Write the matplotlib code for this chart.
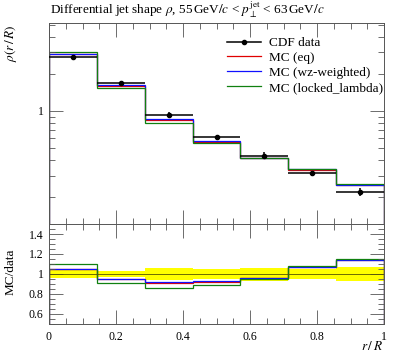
import numpy as np
import matplotlib
matplotlib.use("Agg")
import matplotlib.pyplot as plt
from matplotlib.lines import Line2D
from matplotlib.ticker import FixedLocator, NullFormatter, MultipleLocator, FuncFormatter

plt.rcParams['font.family'] = ['Liberation Serif', 'DejaVu Serif']
plt.rcParams['mathtext.fontset'] = 'stix'

# ---- data ----
edges = [0.0, 1/7, 2/7, 3/7, 4/7, 5/7, 6/7, 1.0]
cdf_data = [2.75, 1.69, 0.933, 0.616, 0.435, 0.313, 0.221]
cdf_relerr = [0.038, 0.027, 0.057, 0.047, 0.065, 0.053, 0.067]
mc_eq = [2.874, 1.606, 0.845, 0.5655, 0.4167, 0.3355, 0.2515]
mc_wz = [2.879, 1.611, 0.855, 0.570, 0.419, 0.336, 0.252]
mc_ll = [3.025, 1.543, 0.801, 0.546, 0.415, 0.339, 0.255]
labels = ["CDF data", "MC (eq)", "MC (wz-weighted)", "MC (locked_lambda)"]
colors = ["black", "#e00000", "#1010ff", "#108010"]

edges = np.array(edges)
data = np.array(cdf_data)
err = data * np.array(cdf_relerr)
centers = 0.5 * (edges[:-1] + edges[1:])
halfw = 0.5 * np.diff(edges)

W, H = 397, 358
fig = plt.figure(figsize=(W / 100, H / 100), dpi=100)
L, R = 49, 384
ax = fig.add_axes([L / W, 1 - 224 / H, (R - L) / W, (224 - 23.3) / H])
axr = fig.add_axes([L / W, 1 - 324 / H, (R - L) / W, (324 - 224) / H])

lw = 0.9
handles = []
for vals, c in zip([mc_eq, mc_wz, mc_ll], colors[1:]):
    ax.stairs(vals, edges, color=c, lw=lw)
    handles.append(Line2D([], [], color=c, lw=lw))
ax.errorbar(centers, data, xerr=halfw, yerr=err, fmt='o', color='black',
            ms=3, lw=1.1, capsize=0, zorder=5)
handles.insert(0, Line2D([], [], color='black', lw=1.1, marker='o', ms=3))

ax.set_yscale('log')
ax.set_xlim(0, 1)
ax.set_ylim(0.1216, 5.13)
ax.yaxis.set_major_locator(FixedLocator([1]))
ax.yaxis.set_minor_locator(FixedLocator([0.2, 0.3, 0.4, 0.5, 0.6, 0.7, 0.8, 0.9, 2, 3, 4, 5]))
ax.yaxis.set_major_formatter(FuncFormatter(lambda v, p: "1"))
ax.yaxis.set_minor_formatter(NullFormatter())
ax.xaxis.set_major_locator(MultipleLocator(0.2))
ax.xaxis.set_minor_locator(MultipleLocator(0.05))
ax.tick_params(labelbottom=False)

# ratio panel
axr.stairs(1 + np.array(cdf_relerr), edges, baseline=1 - np.array(cdf_relerr),
           fill=True, color='#ffff00', lw=0)
axr.hlines(1, 0, 1, color='#555500', lw=0.6)
for vals, c in zip([mc_eq, mc_wz, mc_ll], colors[1:]):
    axr.stairs(np.array(vals) / data, edges, color=c, lw=lw)
axr.set_xlim(0, 1)
axr.set_ylim(0.5, 1.5)
axr.yaxis.set_major_locator(FixedLocator([0.6, 0.8, 1.0, 1.2, 1.4]))
axr.yaxis.set_minor_locator(MultipleLocator(0.05))
axr.yaxis.set_major_formatter(FuncFormatter(lambda v, p: "1" if abs(v - 1) < 1e-9 else f"{v:.1f}"))
axr.xaxis.set_major_locator(MultipleLocator(0.2))
axr.xaxis.set_minor_locator(MultipleLocator(0.05))
axr.xaxis.set_major_formatter(FuncFormatter(lambda v, p: "0" if v == 0 else ("1" if abs(v - 1) < 1e-9 else f"{v:.1f}")))

for a in (ax, axr):
    a.tick_params(which='both', direction='in', top=True, right=True, color='#555555', width=0.6,
                  labelsize=8.5)
    a.tick_params(which='major', length=10)
    a.tick_params(which='minor', length=4.5)
    for s in a.spines.values():
        s.set_color('#555555')
        s.set_linewidth(0.7)
ax.tick_params(axis='y', pad=4)
axr.tick_params(axis='y', pad=4)
axr.tick_params(axis='x', pad=5)

ax.legend(handles, labels,
          loc='upper left', bbox_to_anchor=((227 - L) / (R - L), 1 - (37 - 23.3) / 200.7),
          frameon=False, fontsize=9.5, handlelength=2.6, handletextpad=0.55,
          labelspacing=0.2, borderaxespad=0, borderpad=0)

fig.text(50 / W, 1 - 10 / H,
         r"Differential jet shape $\rho$, 55$\,$GeV$/c$ < $p_\perp^{\rm jet}$ < 63$\,$GeV$/c$",
         ha='left', va='center', fontsize=9.5)
fig.text(11 / W, 1 - 24 / H, r"$\rho(r\,/\,R)$", rotation=90, ha='center', va='top', fontsize=9.5)
fig.text(11 / W, 1 - 272 / H, "MC/data", rotation=90, ha='center', va='center', fontsize=9.5)
fig.text(383 / W, 1 - 347 / H, r"$r\,/\,R$", ha='right', va='center', fontsize=9.5)

fig.savefig("out.png", dpi=100)
